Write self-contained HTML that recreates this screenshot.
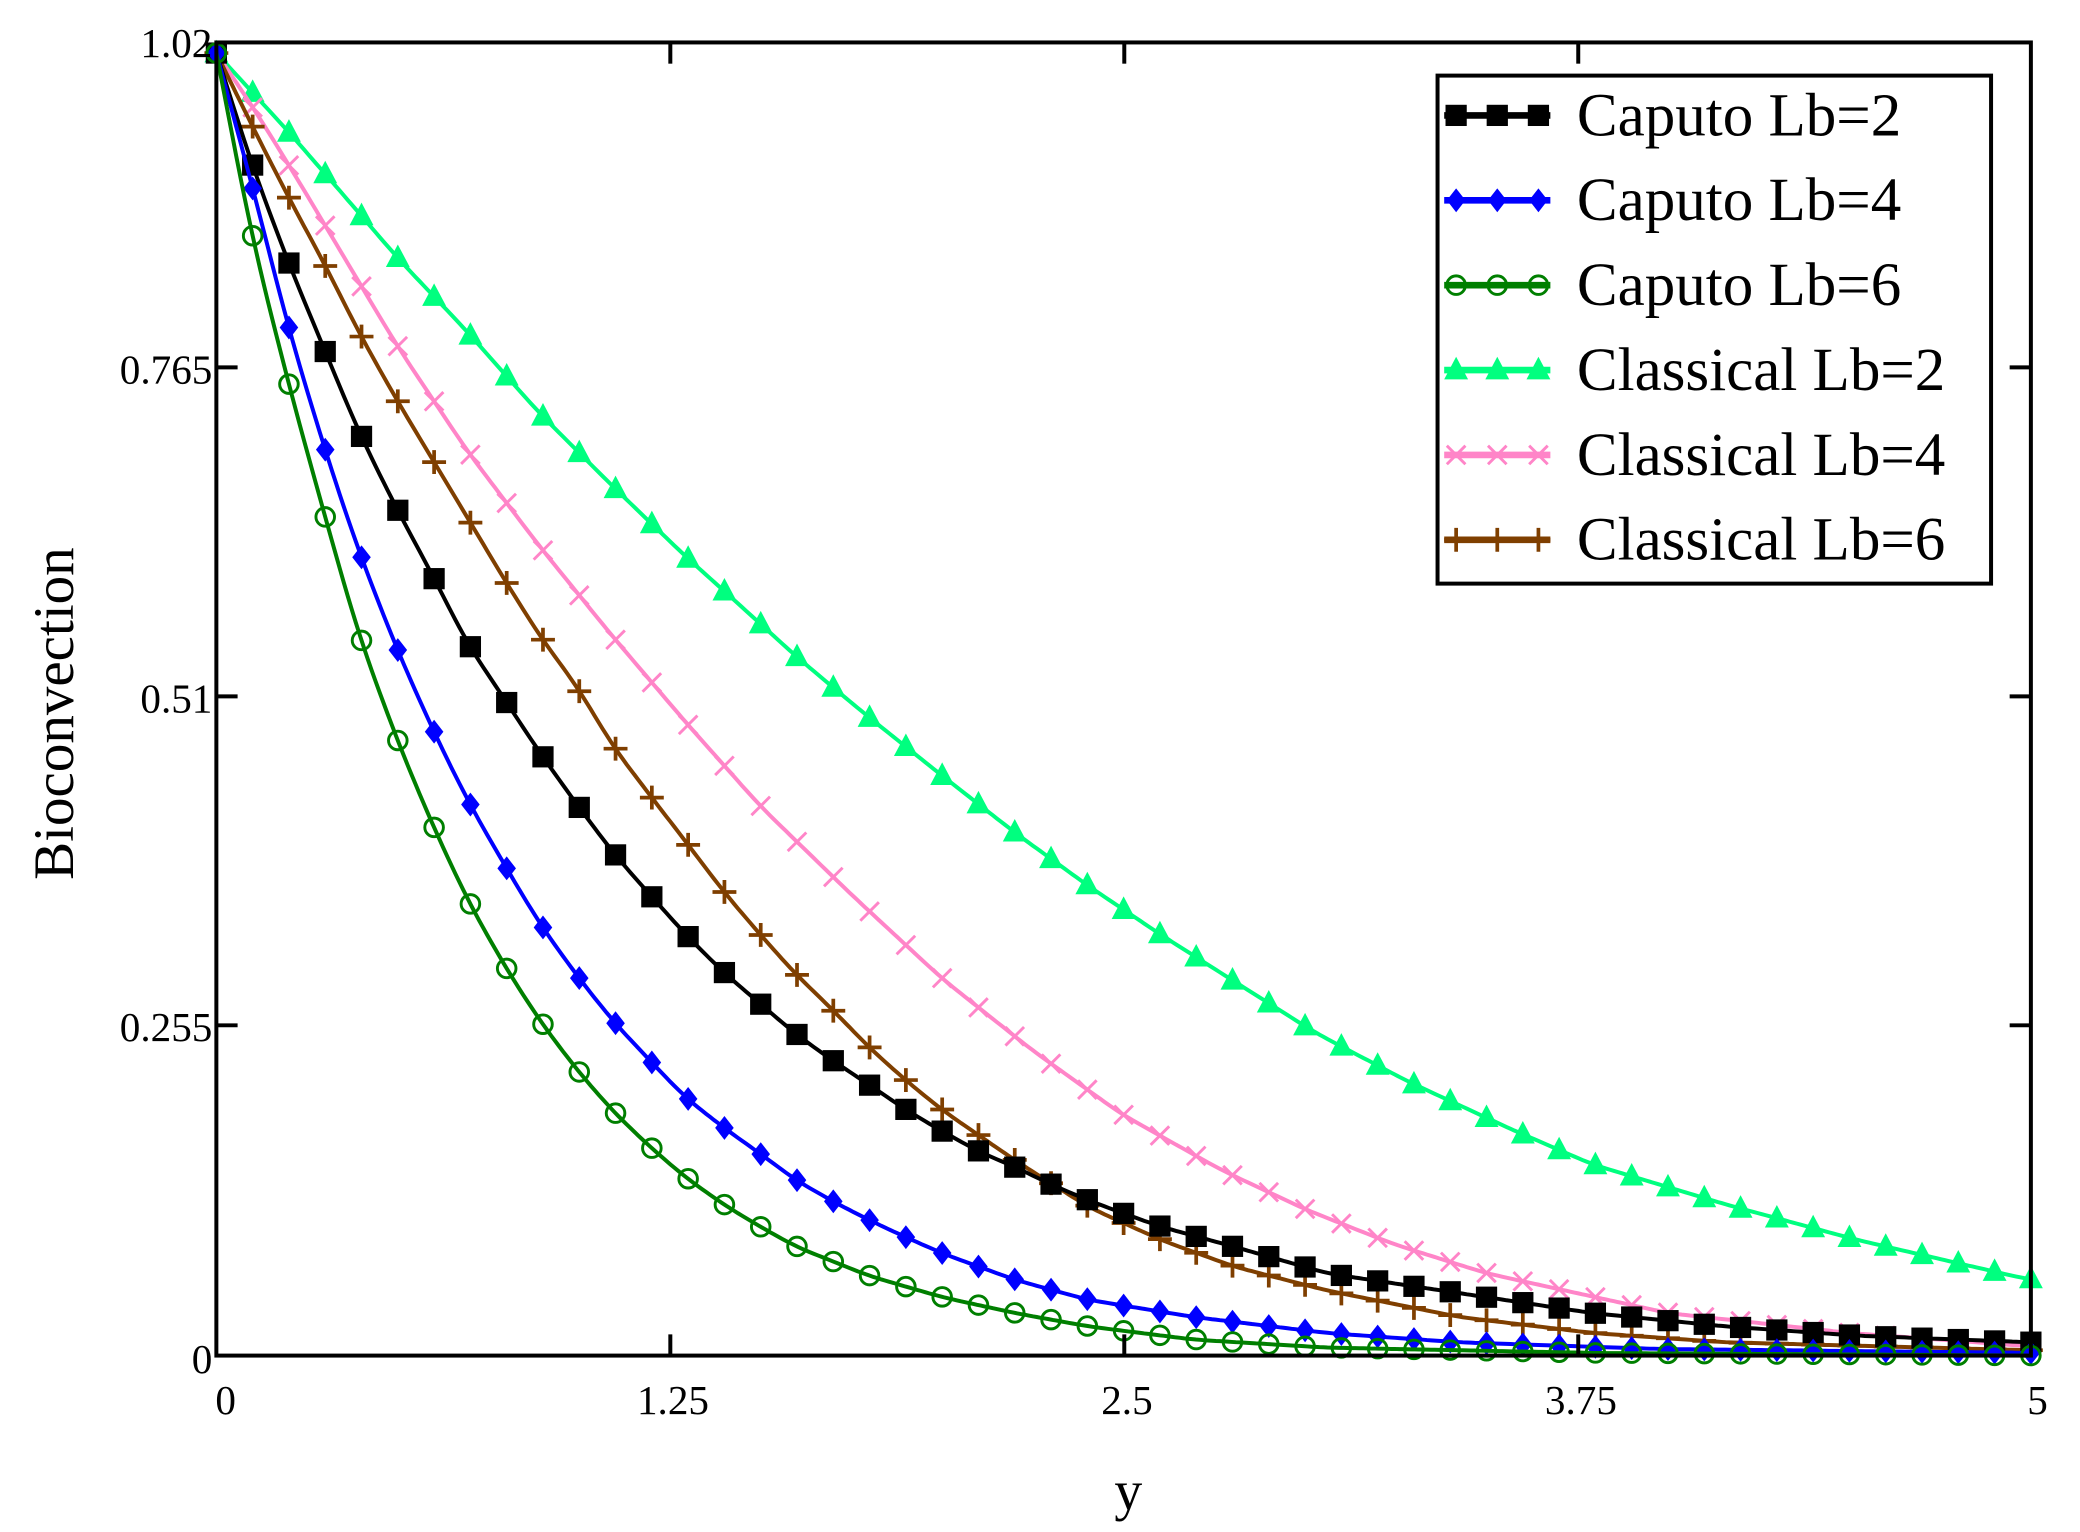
<!DOCTYPE html>
<html><head><meta charset="utf-8"><style>
html,body{margin:0;padding:0;background:#fff;}
svg{display:block;}
text{font-family:"Liberation Serif",serif;}
</style></head><body>
<svg id="s" width="2080" height="1532" viewBox="0 0 1567 1155" preserveAspectRatio="none" xmlns="http://www.w3.org/2000/svg">
<rect x="0" y="0" width="1567" height="1155" fill="#fff"/>
<g id="curves"></g>
<rect x="163" y="32" width="1367" height="990" fill="none" stroke="#000" stroke-width="3"/>
<g stroke="#000" stroke-width="3">
<line x1="505" y1="1022" x2="505" y2="1006"/><line x1="847" y1="1022" x2="847" y2="1006"/><line x1="1189" y1="1022" x2="1189" y2="1006"/>
<line x1="505" y1="32" x2="505" y2="48"/><line x1="847" y1="32" x2="847" y2="48"/><line x1="1189" y1="32" x2="1189" y2="48"/>
<line x1="163" y1="277" x2="179" y2="277"/><line x1="163" y1="525" x2="179" y2="525"/><line x1="163" y1="773" x2="179" y2="773"/>
<line x1="1530" y1="277" x2="1514" y2="277"/><line x1="1530" y1="525" x2="1514" y2="525"/><line x1="1530" y1="773" x2="1514" y2="773"/>
</g>
<g font-size="31" fill="#000" text-anchor="end">
<text x="160" y="43">1.02</text><text x="160" y="289">0.765</text><text x="160" y="537">0.51</text><text x="160" y="785">0.255</text><text x="160" y="1035">0</text>
</g>
<g font-size="31" fill="#000" text-anchor="middle">
<text x="170" y="1066">0</text><text x="507" y="1066">1.25</text><text x="849" y="1066">2.5</text><text x="1191" y="1066">3.75</text><text x="1535" y="1066">5</text>
</g>
<text x="850" y="1138" font-size="42" text-anchor="middle">y</text>
<text transform="translate(55,538) rotate(-90)" font-size="43" text-anchor="middle">Bioconvection</text>
<rect x="1083" y="57" width="417" height="383" fill="#fff" stroke="#000" stroke-width="3"/>
<g id="legend"></g>
</svg>
<script>
const S={
cap2:[[163,40],[190,125],[218,200],[245,265],[270,325],[298,382],[325,432],[352,485],[380,527],[407,568],[435,607],[462,643],[490,675],[517,705],[545,733],[573,757],[600,780],[628,800],[655,818],[683,837],[710,853],[737,868],[765,880],[792,893],[820,905],[847,915],[875,925],[930,940],[1000,960],[1100,975],[1200,990],[1300,1000],[1400,1007],[1530,1012]],
cap4:[[163,40],[190,140],[218,250],[245,340],[270,415],[298,487],[325,548],[352,603],[380,652],[407,697],[435,736],[462,770],[490,800],[517,828],[545,850],[573,870],[600,890],[628,906],[655,920],[683,933],[710,945],[765,965],[820,980],[900,993],[1000,1005],[1100,1012],[1250,1017],[1530,1020]],
cap6:[[163,40],[190,180],[218,292],[245,390],[270,478],[298,555],[325,620],[352,678],[380,728],[407,770],[435,807],[462,838],[490,865],[517,888],[545,908],[573,925],[600,940],[655,962],[710,978],[765,990],[820,1000],[900,1010],[1000,1016],[1200,1020],[1530,1022]],
cl2:[[163,40],[218,100],[270,160],[300,195],[352,250],[405,310],[460,365],[517,420],[545,445],[600,495],[650,537],[710,585],[765,628],[820,668],[875,705],[930,740],[990,778],[1060,815],[1140,852],[1200,878],[1300,908],[1400,935],[1530,965]],
cl4:[[163,40],[190,80],[218,125],[245,170],[270,212],[300,262],[352,340],[405,410],[460,478],[517,545],[573,608],[642,675],[710,738],[778,792],[845,840],[920,882],[984,912],[1050,938],[1120,960],[1257,990],[1394,1005],[1530,1015]],
cl6:[[163,40],[190,95],[218,150],[245,200],[270,250],[298,300],[325,345],[352,390],[380,437],[407,480],[435,518],[462,563],[490,600],[517,635],[545,672],[573,705],[600,735],[628,762],[655,790],[683,815],[710,837],[765,875],[820,910],[875,935],[930,955],[1000,973],[1100,993],[1200,1005],[1300,1012],[1530,1018]]
};
function lin(p,x){for(let i=1;i<p.length;i++){if(x<=p[i][0]){const a=p[i-1],b=p[i];return a[1]+(b[1]-a[1])*(x-a[0])/(b[0]-a[0]);}}return p[p.length-1][1];}
function interp(p,x){if(x<180)return lin(p,x);let s=0,n=0;for(let d=-12;d<=12;d+=2){s+=lin(p,Math.min(1530,x+d));n++;}return s/n;}
function marker(t,x,y,c){
 if(t=='sq')return `<rect x="${x-8}" y="${y-8}" width="16" height="16" fill="${c}"/>`;
 if(t=='dia')return `<polygon points="${x},${y-9} ${x+7},${y} ${x},${y+9} ${x-7},${y}" fill="${c}"/>`;
 if(t=='circ')return `<circle cx="${x}" cy="${y}" r="7" fill="none" stroke="${c}" stroke-width="2.2"/>`;
 if(t=='tri')return `<polygon points="${x},${y-10} ${x+9},${y+7} ${x-9},${y+7}" fill="${c}"/>`;
 if(t=='x')return `<path d="M${x-7} ${y-7}L${x+7} ${y+7}M${x+7} ${y-7}L${x-7} ${y+7}" stroke="${c}" stroke-width="2.2"/>`;
 if(t=='plus')return `<path d="M${x-9} ${y}H${x+9}M${x} ${y-9}V${y+9}" stroke="${c}" stroke-width="2.8"/>`;
}
const cfg=[['cl2','#00ff7f','tri','Classical Lb=2',279],['cl4','#ff85c8','x','Classical Lb=4',343],['cl6','#7f3f00','plus','Classical Lb=6',407],['cap2','#000','sq','Caputo Lb=2',87],['cap4','#0000ff','dia','Caputo Lb=4',151],['cap6','#007f00','circ','Caputo Lb=6',215]];
let out='',leg='';
for(const [k,c,m,lab,ly] of cfg){
 const p=S[k];let d='';
 for(let x=163;x<=1530;x+=3){d+=(x==163?'M':'L')+x+' '+interp(p,x).toFixed(1);}
 out+=`<path d="${d}" fill="none" stroke="${c}" stroke-width="3"/>`;
 for(let i=0;i<=50;i++){const x=163+i*1367/50;out+=marker(m,x,interp(p,x),c);}
 leg+=`<line x1="1088" y1="${ly}" x2="1168" y2="${ly}" stroke="${c}" stroke-width="5"/>`;
 for(const x of [1097,1128,1159])leg+=marker(m,x,ly,c);
 leg+=`<text x="1188" y="${ly+15}" font-size="46" fill="#000">${lab}</text>`;
}
document.getElementById('curves').innerHTML=out;
document.getElementById('legend').innerHTML=leg;
</script>
</body></html>
